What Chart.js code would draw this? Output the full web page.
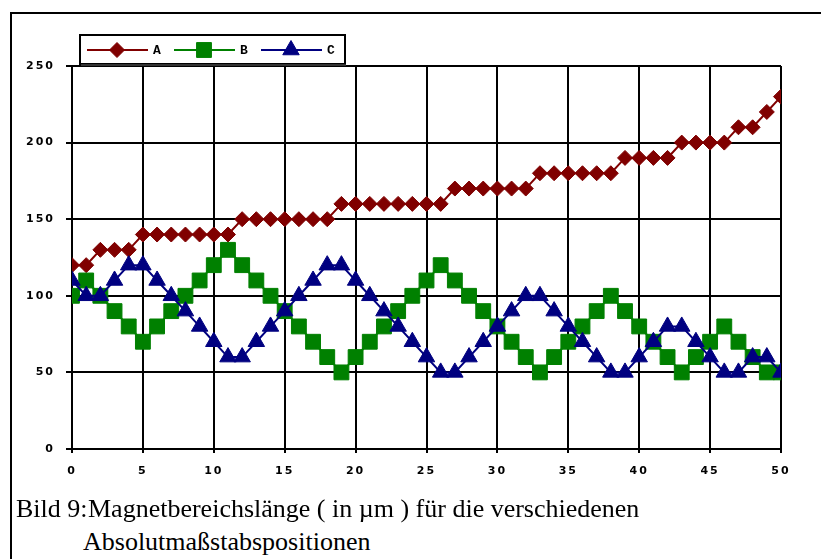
<!DOCTYPE html>
<html>
<head>
<meta charset="utf-8">
<script src="https://cdn.jsdelivr.net/npm/chart.js@4.4.1/dist/chart.umd.min.js"></script>
<style>
  html, body { margin: 0; padding: 0; background: #fff; }
  body { width: 821px; height: 559px; position: relative; overflow: hidden; }
  #frame { position: absolute; left: 10px; top: 12px; width: 900px; height: 700px;
           border-left: 2px solid #000; border-top: 2px solid #000; }
  #chart-wrap { position: absolute; left: 0; top: 0; width: 821px; height: 500px; }
  .cap { position: absolute; font-family: "Liberation Serif", "Times New Roman", serif;
         font-size: 26px; color: #000; white-space: nowrap; line-height: 1; }
</style>
</head>
<body>
<div id="frame"></div>
<div id="chart-wrap"><canvas id="chart"></canvas></div>
<div class="cap" style="left:16px; top:496px;">Bild 9:</div>
<div class="cap" style="left:88px; top:496px;">Magnetbereichslänge ( in µm ) für die verschiedenen</div>
<div class="cap" style="left:83px; top:529px;">Absolutmaßstabspositionen</div>
<script>
// chart values
const positions = [];
for (let i = 0; i <= 50; i++) positions.push(i);

const seriesA = [120, 120, 130, 130, 130, 140, 140, 140, 140, 140, 140, 140, 150, 150, 150, 150, 150, 150, 150,
                 160, 160, 160, 160, 160, 160, 160, 160, 170, 170, 170, 170, 170, 170, 180, 180, 180, 180, 180, 180,
                 190, 190, 190, 190, 200, 200, 200, 200, 210, 210, 220, 230];
const seriesB = [100, 110, 100, 90, 80, 70, 80, 90, 100, 110, 120, 130, 120, 110, 100, 90, 80, 70, 60,
                 50, 60, 70, 80, 90, 100, 110, 120, 110, 100, 90, 80, 70, 60, 50, 60, 70, 80, 90, 100,
                 90, 80, 70, 60, 50, 60, 70, 80, 70, 60, 50, 50];
const seriesC = [110, 100, 100, 110, 120, 120, 110, 100, 90, 80, 70, 60, 60, 70, 80, 90, 100, 110, 120,
                 120, 110, 100, 90, 80, 70, 60, 50, 50, 60, 70, 80, 90, 100, 100, 90, 80, 70, 60, 50,
                 50, 60, 70, 80, 80, 70, 60, 50, 50, 60, 60, 50];
const seriesNames = ['A', 'B', 'C'];
const xTicks = [0, 5, 10, 15, 20, 25, 30, 35, 40, 45, 50];
const yTicks = [0, 50, 100, 150, 200, 250];

function toPoints(values) {
    return values.map((v, i) => ({ x: positions[i], y: v }));
}

const tickFont = { family: '"DejaVu Sans", sans-serif', size: 11, weight: 'bold' };

// legend drawn as a boxed row: line + marker + label
const boxLegend = {
    id: 'boxLegend',
    afterDraw(chart) {
        const ctx = chart.ctx;
        ctx.save();
        ctx.letterSpacing = '0px';
        ctx.fillStyle = '#fff';
        ctx.fillRect(80, 35, 265, 29);
        ctx.strokeStyle = '#000';
        ctx.lineWidth = 2;
        ctx.strokeRect(80, 35, 265, 29);
        ctx.fillStyle = '#333';
        ctx.fillRect(81, 64, 265, 2);
        const cy = 50;
        chart.data.datasets.forEach((ds, i) => {
            const x0 = 87 + i * 87;
            ctx.strokeStyle = ds.borderColor;
            ctx.lineWidth = 2;
            ctx.beginPath();
            ctx.moveTo(x0, cy);
            ctx.lineTo(x0 + 61, cy);
            ctx.stroke();
            ctx.fillStyle = ds.pointBackgroundColor;
            ctx.strokeStyle = ds.pointBorderColor;
            ctx.lineWidth = 1;
            Chart.helpers.drawPoint(ctx, {
                pointStyle: ds.pointStyle, radius: ds.pointRadius, borderWidth: 1, rotation: 0
            }, x0 + 30, cy);
            ctx.fillStyle = '#000';
            ctx.font = 'bold 13px "Liberation Mono", monospace';
            ctx.textBaseline = 'middle';
            ctx.textAlign = 'left';
            ctx.fillText(ds.label, x0 + 66, cy + 1);
        });
        ctx.restore();
    }
};

const spacing = {
    id: 'spacing',
    beforeDraw(chart) { chart.ctx.letterSpacing = '2px'; }
};

const datasets = [
    { label: seriesNames[0], data: toPoints(seriesA), borderColor: '#800000', backgroundColor: '#800000',
      pointBackgroundColor: '#800000', pointBorderColor: '#800000', pointStyle: 'rectRot', pointRadius: 7.5, order: 3 },
    { label: seriesNames[1], data: toPoints(seriesB), borderColor: '#008000', backgroundColor: '#008000',
      pointBackgroundColor: '#008000', pointBorderColor: '#008000', pointStyle: 'rect', pointRadius: 10.5, order: 2 },
    { label: seriesNames[2], data: toPoints(seriesC), borderColor: '#000080', backgroundColor: '#000080',
      pointBackgroundColor: '#000080', pointBorderColor: '#000080', pointStyle: 'triangle', pointRadius: 9.5, order: 1 }
];
datasets.forEach(ds => { ds.borderWidth = 2; ds.pointBorderWidth = 1; ds.tension = 0; ds.pointHoverRadius = ds.pointRadius; });

new Chart(document.getElementById('chart'), {
    type: 'line',
    data: { datasets: datasets },
    options: {
        responsive: true,
        maintainAspectRatio: false,
        animation: false,
        layout: { padding: { left: 0, right: 40, top: 66, bottom: 11 } },
        plugins: { legend: { display: false }, tooltip: { enabled: false } },
        scales: {
            x: {
                type: 'linear', min: 0, max: 50,
                afterBuildTicks: s => { s.ticks = xTicks.map(v => ({ value: v })); },
                afterFit: s => { s.height = 40; },
                grid: { color: '#000', lineWidth: 2, tickLength: 4, drawTicks: true },
                border: { color: '#000', width: 2 },
                ticks: { color: '#000', font: tickFont, padding: 12, maxRotation: 0 }
            },
            y: {
                min: 0, max: 250,
                afterBuildTicks: s => { s.ticks = yTicks.map(v => ({ value: v })); },
                afterFit: s => { s.width = 72; },
                grid: { color: '#000', lineWidth: 2, tickLength: 6, drawTicks: true },
                border: { color: '#000', width: 2 },
                ticks: { color: '#000', font: tickFont, padding: 11 }
            }
        }
    },
    plugins: [spacing, boxLegend]
});
</script>
</body>
</html>
